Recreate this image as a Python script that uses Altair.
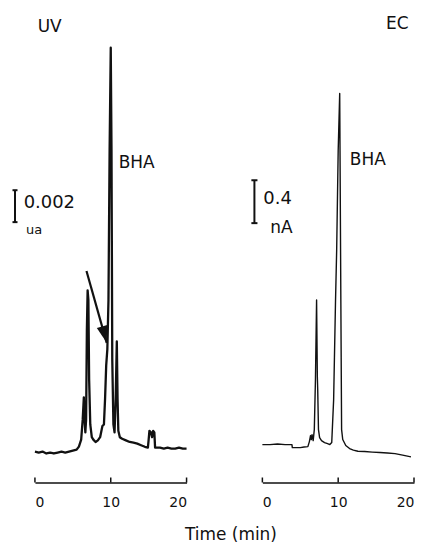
import altair as alt
import pandas as pd

# ---------------- data ----------------
# UV trace: time (min) and absorbance above baseline (AU)
uv_t = [0.0, 0.5, 1.0, 1.5, 2.0, 2.5, 3.0, 3.5, 4.0, 4.5, 5.0, 5.5, 5.8, 6.1, 6.3, 6.45,
        6.55, 6.65, 6.75, 6.85, 6.95, 7.05, 7.15, 7.3, 7.5, 7.7, 8.0, 8.3, 8.6, 8.9, 9.1,
        9.25, 9.4, 9.55, 9.7, 9.85, 10.0, 10.1, 10.2, 10.35, 10.5, 10.65, 10.8, 10.9, 11.0,
        11.2, 11.5, 12.0, 12.5, 13.0, 13.5, 14.0, 14.5, 14.9, 15.0, 15.1, 15.3, 15.45, 15.6,
        15.75, 15.85, 16.0, 16.5, 17.0, 17.5, 18.0, 18.5, 19.0, 19.5, 20.0]
uv_v = [0.0, -0.00006, 0.0, -0.00012, -0.00006, -0.00012, -0.00006, 0.0, -0.00006, 0.0,
        0.00006, 0.00012, 0.00031, 0.00075, 0.0020, 0.0034, 0.0020, 0.0012, 0.0020, 0.0076,
        0.0101, 0.0095, 0.0045, 0.0017, 0.0009, 0.00075, 0.0006, 0.0007, 0.0009, 0.0016,
        0.0017, 0.0033, 0.0054, 0.0064, 0.0095, 0.0189, 0.0253, 0.0189, 0.0058, 0.0017,
        0.0012, 0.0033, 0.0069, 0.0033, 0.0013, 0.0009, 0.0008, 0.0007, 0.0006, 0.00056,
        0.0005, 0.0004, 0.0003, 0.00025, 0.00075, 0.0013, 0.0012, 0.0009, 0.0013, 0.0012,
        0.00025, 0.00025, 0.00025, 0.00019, 0.00025, 0.00019, 0.00019, 0.00025, 0.00019,
        0.00019]

# EC trace: time (min) and current (nA)
ec_t = [0.0, 1.0, 2.0, 3.0, 3.9, 3.95, 4.5, 5.0, 5.5, 6.0, 6.2, 6.35, 6.45, 6.55, 6.7,
        6.85, 7.0, 7.15, 7.25, 7.3, 7.4, 7.55, 7.8, 8.2, 8.6, 8.9, 9.15, 9.4, 9.65, 9.8,
        10.0, 10.2, 10.35, 10.45, 10.6, 11.0, 11.5, 12.0, 12.6, 13.5, 14.5, 15.5, 16.5,
        17.5, 18.5, 19.6]
ec_v = [0.0, 0.0, 0.005, 0.0, 0.0, -0.028, -0.028, -0.028, -0.023, -0.019, 0.028, 0.084,
        0.047, 0.093, 0.037, 0.140, 0.605, 1.349, 0.633, 0.512, 0.140, 0.065, 0.037, 0.019,
        0.009, 0.0, 0.019, 0.419, 1.349, 1.814, 2.744, 3.274, 1.349, 0.140, 0.047, -0.009,
        -0.037, -0.051, -0.062, -0.065, -0.070, -0.074, -0.079, -0.084, -0.098, -0.114]

tick_values = [0, 10, 20]
x_title = "Time (min)"

uv_title = "UV"
ec_title = "EC"
peak_name = "BHA"
uv_bar_value = 0.002
uv_bar_unit = "ua"
ec_bar_value = 0.4
ec_bar_unit = "nA"

# ---------------- layout helpers ----------------
W, H = 152, 475
FONT = "DejaVu Sans"
INK = "#111111"

uv_dom = [-0.0019375, 0.02775]
ec_dom = [-0.35349, 4.06512]


def x_enc(title_on):
    common = dict(values=tick_values, format="d", tickSize=0, grid=False,
                  domainColor=INK, domainWidth=1.5, labelFont=FONT, labelFontSize=14,
                  labelColor=INK, labelPadding=13)
    if title_on:
        ax = alt.Axis(title=x_title, titleFont=FONT, titleFontSize=17,
                      titleFontWeight="normal", titleColor=INK, titleX=196, titleY=52,
                      titleAlign="center", titleBaseline="middle", **common)
    else:
        ax = alt.Axis(title=None, **common)
    return alt.X("t:Q", scale=alt.Scale(domain=[0, 20], nice=False, zero=False), axis=ax)


def y_enc(dom, field="v"):
    return alt.Y(f"{field}:Q", scale=alt.Scale(domain=dom, nice=False, zero=False), axis=None)


def panel(t, v, dom, stroke_w, tick_top, bar_t, bar_lo, bar_hi, serif, texts, title_on,
          arrow=None):
    X = x_enc(title_on)
    Y = y_enc(dom)
    trace = alt.Chart(pd.DataFrame({"t": t, "v": v})).mark_line(
        color=INK, strokeWidth=stroke_w, strokeJoin="round").encode(x=X, y=Y)
    ticks = alt.Chart(pd.DataFrame({"t": tick_values, "v": [dom[0]] * 3,
                                    "v2": [tick_top] * 3})).mark_rule(
        color=INK, strokeWidth=1.5).encode(x=X, y=Y, y2="v2:Q")
    bar = alt.Chart(pd.DataFrame({"t": [bar_t], "v": [bar_lo], "v2": [bar_hi]})).mark_rule(
        color=INK, strokeWidth=2).encode(x=X, y=Y, y2="v2:Q")
    serifs = alt.Chart(pd.DataFrame({"t": [bar_t - serif] * 2, "t2": [bar_t + serif] * 2,
                                     "v": [bar_lo, bar_hi]})).mark_rule(
        color=INK, strokeWidth=2).encode(x=X, x2="t2:Q", y=Y)
    layers = [trace, ticks, bar, serifs]
    for (txt, tt, vv, fs) in texts:
        layers.append(alt.Chart(pd.DataFrame({"t": [tt], "v": [vv], "s": [txt]})).mark_text(
            align="left", baseline="middle", font=FONT, fontSize=fs, color=INK).encode(
            x=X, y=Y, text="s:N"))
    if arrow is not None:
        (t0, v0, t1, v1, ang) = arrow
        layers.append(alt.Chart(pd.DataFrame({"t": [t0], "v": [v0], "t2": [t1], "v2": [v1]}))
                      .mark_rule(color=INK, strokeWidth=2.2)
                      .encode(x=X, y=Y, x2="t2:Q", y2="v2:Q"))
        layers.append(alt.Chart(pd.DataFrame({"t": [t1], "v": [v1]}))
                      .mark_point(shape="M0,0 L-0.32,-1 L0.32,-1 Z", filled=True, fill=INK,
                                  strokeWidth=0, opacity=1, size=1156, angle=ang)
                      .encode(x=X, y=Y))
    return alt.layer(*layers).properties(width=W, height=H)


uv = panel(uv_t, uv_v, uv_dom, 2.3, -0.001625, -2.63, 0.014375, 0.016375, 0.33,
           [(uv_title, 0.36, 0.02658, 17), (peak_name, 11.05, 0.01806, 17),
            (f"{uv_bar_value}", -1.49, 0.01556, 18), (uv_bar_unit, -1.18, 0.01388, 13)],
           True, arrow=(6.8, 0.01131, 9.47, 0.00681, 344))

ec = panel(ec_t, ec_v, ec_dom, 1.4, -0.307, -1.05, 2.065, 2.465, 0.4,
           [(ec_title, 16.3, 3.923, 17), (peak_name, 11.53, 2.651, 17),
            (f"{ec_bar_value}", 0.13, 2.288, 18), (ec_bar_unit, 1.05, 2.019, 17)],
           False)

chart = alt.hconcat(uv, ec, spacing=76, bounds="flush").properties(
    padding={"left": 3, "top": 0, "right": 0, "bottom": 0},
    background="white",
).configure_view(stroke=None)

chart.save("out.html", embed_options={"renderer": "svg", "actions": False})
